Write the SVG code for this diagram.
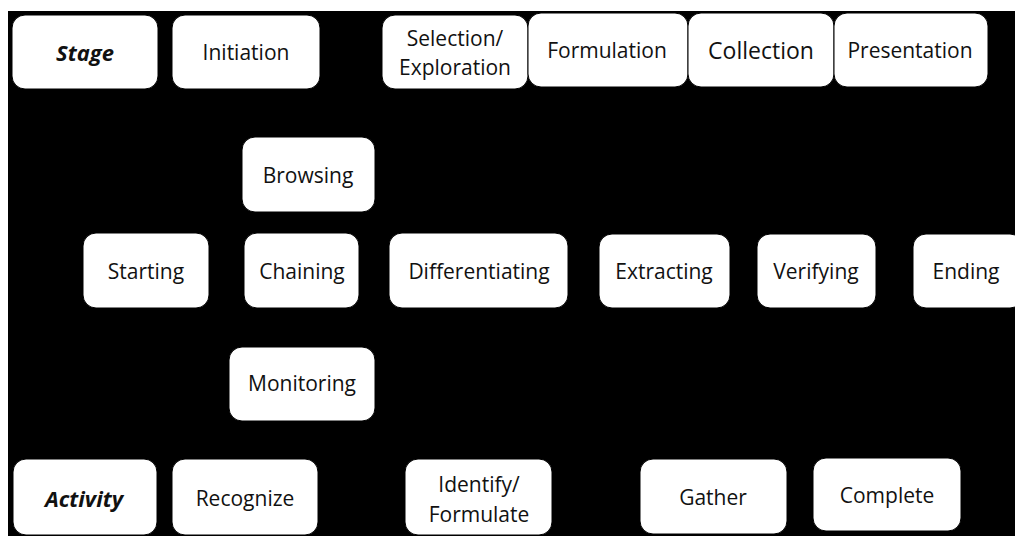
<svg xmlns="http://www.w3.org/2000/svg" width="1015" height="536" viewBox="0 0 1015 536">
<style>
.box{fill:#fff;stroke:#000;stroke-width:1}
.t{font-family:"Open Sans","Liberation Sans",sans-serif;font-size:21px;fill:#111;text-anchor:middle;dominant-baseline:central}
.h{font-weight:bold;font-style:italic;font-size:22px}
.c{fill:none;stroke:#000;stroke-width:2}
</style>
<rect x="0" y="0" width="1015" height="536" fill="#fff"/>
<rect x="8" y="11" width="1007" height="525" fill="#000"/>
<g id="connectors">
<path class="c" d="M209,271 H244"/>
<path class="c" d="M359,271 H389"/>
<path class="c" d="M568,271 H599"/>
<path class="c" d="M730,271 H757"/>
<path class="c" d="M876,271 H913"/>
<path class="c" d="M147,233 V175 H242"/>
<path class="c" d="M147,308 V383 H229"/>
<path class="c" d="M375,175 H478 V233"/>
<path class="c" d="M375,383 H478 V308"/>
</g>
<g id="stage"><rect class="box" x="12" y="15" width="146" height="74" rx="13"/><text class="t h" x="85" y="52">Stage</text></g>
<g id="initiation"><rect class="box" x="172" y="15" width="148" height="74" rx="13"/><text class="t" x="246" y="52">Initiation</text></g>
<g id="selection"><rect class="box" x="382" y="15" width="146" height="74" rx="13"/><text class="t" x="455" y="38">Selection/</text><text class="t" x="455" y="67">Exploration</text></g>
<g id="formulation"><rect class="box" x="528" y="13" width="160" height="74" rx="13"/><text class="t" x="607" y="50">Formulation</text></g>
<g id="collection"><rect class="box" x="688" y="13" width="146" height="74" rx="13"/><text class="t" x="761" y="50" style="font-size:23px">Collection</text></g>
<g id="presentation"><rect class="box" x="834" y="13" width="154" height="74" rx="13"/><text class="t" x="910" y="50">Presentation</text></g>
<g id="browsing"><rect class="box" x="242" y="137" width="133" height="75" rx="13"/><text class="t" x="308" y="175">Browsing</text></g>
<g id="starting"><rect class="box" x="83" y="233" width="126" height="75" rx="13"/><text class="t" x="146" y="271">Starting</text></g>
<g id="chaining"><rect class="box" x="244" y="233" width="115" height="75" rx="13"/><text class="t" x="302" y="271">Chaining</text></g>
<g id="differentiating"><rect class="box" x="389" y="233" width="179" height="75" rx="13"/><text class="t" x="479" y="271">Differentiating</text></g>
<g id="extracting"><rect class="box" x="599" y="234" width="131" height="74" rx="13"/><text class="t" x="664" y="271">Extracting</text></g>
<g id="verifying"><rect class="box" x="757" y="234" width="119" height="74" rx="13"/><text class="t" x="816" y="271">Verifying</text></g>
<g id="ending"><rect class="box" x="913" y="234" width="110" height="74" rx="13"/><text class="t" x="966" y="271">Ending</text></g>
<g id="monitoring"><rect class="box" x="229" y="347" width="146" height="74" rx="13"/><text class="t" x="302" y="383">Monitoring</text></g>
<g id="activity"><rect class="box" x="13" y="459" width="144" height="76" rx="13"/><text class="t h" x="84" y="498">Activity</text></g>
<g id="recognize"><rect class="box" x="172" y="459" width="146" height="76" rx="13"/><text class="t" x="245" y="498">Recognize</text></g>
<g id="identify"><rect class="box" x="405" y="459" width="147" height="76" rx="13"/><text class="t" x="479" y="484">Identify/</text><text class="t" x="479" y="514">Formulate</text></g>
<g id="gather"><rect class="box" x="640" y="459" width="147" height="75" rx="13"/><text class="t" x="713" y="497">Gather</text></g>
<g id="complete"><rect class="box" x="813" y="458" width="148" height="73" rx="13"/><text class="t" x="887" y="495">Complete</text></g>
</svg>
